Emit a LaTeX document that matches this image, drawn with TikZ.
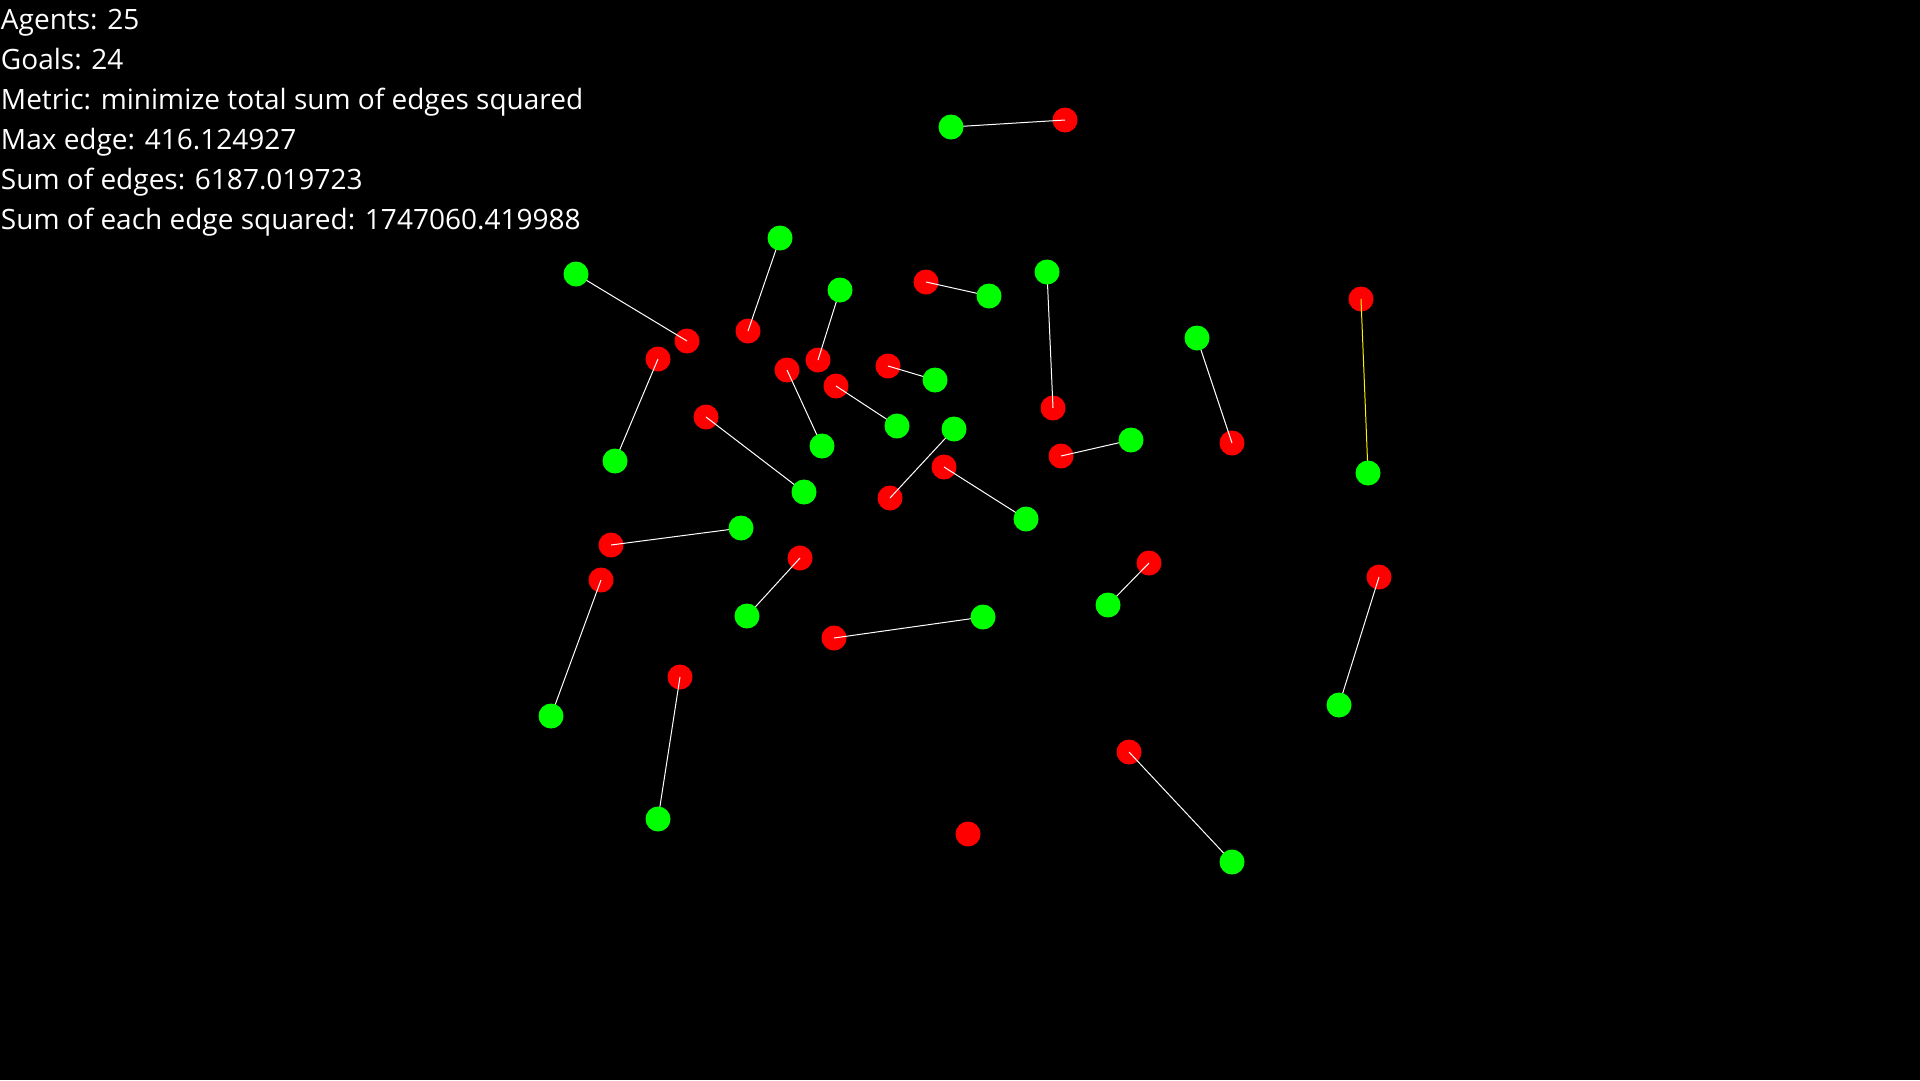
\documentclass[tikz,border=0pt]{standalone}
\usepackage{fontspec}
\setmainfont{Open Sans}
\definecolor{agentred}{RGB}{255,0,0}
\definecolor{goalgreen}{RGB}{0,255,0}
\definecolor{maxyellow}{RGB}{255,240,0}
\tikzset{every picture/.style={line width=1pt},
  agent/.style={circle,fill=agentred,minimum size=25pt,inner sep=0pt},
  goal/.style={circle,fill=goalgreen,minimum size=25pt,inner sep=0pt},
  edge/.style={draw=white,line width=1pt},
  maxedge/.style={draw=maxyellow,line width=1pt},
  stat/.style={anchor=base west,inner sep=0pt,text=white,font=\fontsize{28}{40}\selectfont}}
\begin{document}
\begin{tikzpicture}[x=1pt,y=1pt,yscale=-1]
  \fill[black] (0,0) rectangle (1920,1080);
  \useasboundingbox (0,0) rectangle (1920,1080);

  % statistics
  \node[stat] (agents) at (0.5,29.3) {Agents: 25};
  \node[stat] (goals) at (0.5,69.3) {Goals: 24};
  \node[stat] (metric) at (0.5,109.3) {Metric: minimize total sum of edges squared};
  \node[stat] (maxe) at (0.5,149.3) {Max edge: 416.124927};
  \node[stat] (sume) at (0.5,189.3) {Sum of edges: 6187.019723};
  \node[stat] (sumsq) at (0.5,229.3) {Sum of each edge squared: 1747060.419988};

  % agents
  \node[agent] (a1) at (1065,120) {};
  \node[agent] (a2) at (926,282) {};
  \node[agent] (a3) at (1361,299) {};
  \node[agent] (a4) at (687,341) {};
  \node[agent] (a5) at (748,331) {};
  \node[agent] (a6) at (658,359) {};
  \node[agent] (a7) at (787,370) {};
  \node[agent] (a8) at (818,360) {};
  \node[agent] (a9) at (836,386) {};
  \node[agent] (a10) at (888,366) {};
  \node[agent] (a11) at (1053,408) {};
  \node[agent] (a12) at (706,417) {};
  \node[agent] (a13) at (1232,443) {};
  \node[agent] (a14) at (1061,456) {};
  \node[agent] (a15) at (944,467) {};
  \node[agent] (a16) at (890,498) {};
  \node[agent] (a17) at (611,545) {};
  \node[agent] (a18) at (800,558) {};
  \node[agent] (a19) at (1149,563) {};
  \node[agent] (a20) at (601,580) {};
  \node[agent] (a21) at (1379,577) {};
  \node[agent] (a22) at (834,638) {};
  \node[agent] (a23) at (680,677) {};
  \node[agent] (a24) at (1129,752) {};
  \node[agent] (a25) at (968,834) {};

  % goal positions
  \coordinate (g1) at (951,127);
  \coordinate (g2) at (989,296);
  \coordinate (g3) at (1368,473);
  \coordinate (g4) at (576,274);
  \coordinate (g5) at (780,238);
  \coordinate (g6) at (615,461);
  \coordinate (g7) at (822,446);
  \coordinate (g8) at (840,290);
  \coordinate (g9) at (897,426);
  \coordinate (g10) at (935,380);
  \coordinate (g11) at (1047,272);
  \coordinate (g12) at (804,492);
  \coordinate (g13) at (1197,338);
  \coordinate (g14) at (1131,440);
  \coordinate (g15) at (1026,519);
  \coordinate (g16) at (954,429);
  \coordinate (g17) at (741,528);
  \coordinate (g18) at (747,616);
  \coordinate (g19) at (1108,605);
  \coordinate (g20) at (551,716);
  \coordinate (g21) at (1339,705);
  \coordinate (g22) at (983,617);
  \coordinate (g23) at (658,819);
  \coordinate (g24) at (1232,862);

  % assignment edges
  \draw[edge] (a1.center) -- (g1);
  \draw[edge] (a2.center) -- (g2);
  \draw[maxedge] (a3.center) -- (g3);
  \draw[edge] (a4.center) -- (g4);
  \draw[edge] (a5.center) -- (g5);
  \draw[edge] (a6.center) -- (g6);
  \draw[edge] (a7.center) -- (g7);
  \draw[edge] (a8.center) -- (g8);
  \draw[edge] (a9.center) -- (g9);
  \draw[edge] (a10.center) -- (g10);
  \draw[edge] (a11.center) -- (g11);
  \draw[edge] (a12.center) -- (g12);
  \draw[edge] (a13.center) -- (g13);
  \draw[edge] (a14.center) -- (g14);
  \draw[edge] (a15.center) -- (g15);
  \draw[edge] (a16.center) -- (g16);
  \draw[edge] (a17.center) -- (g17);
  \draw[edge] (a18.center) -- (g18);
  \draw[edge] (a19.center) -- (g19);
  \draw[edge] (a20.center) -- (g20);
  \draw[edge] (a21.center) -- (g21);
  \draw[edge] (a22.center) -- (g22);
  \draw[edge] (a23.center) -- (g23);
  \draw[edge] (a24.center) -- (g24);

  % goals
  \node[goal] (goal1) at (g1) {};
  \node[goal] (goal2) at (g2) {};
  \node[goal] (goal3) at (g3) {};
  \node[goal] (goal4) at (g4) {};
  \node[goal] (goal5) at (g5) {};
  \node[goal] (goal6) at (g6) {};
  \node[goal] (goal7) at (g7) {};
  \node[goal] (goal8) at (g8) {};
  \node[goal] (goal9) at (g9) {};
  \node[goal] (goal10) at (g10) {};
  \node[goal] (goal11) at (g11) {};
  \node[goal] (goal12) at (g12) {};
  \node[goal] (goal13) at (g13) {};
  \node[goal] (goal14) at (g14) {};
  \node[goal] (goal15) at (g15) {};
  \node[goal] (goal16) at (g16) {};
  \node[goal] (goal17) at (g17) {};
  \node[goal] (goal18) at (g18) {};
  \node[goal] (goal19) at (g19) {};
  \node[goal] (goal20) at (g20) {};
  \node[goal] (goal21) at (g21) {};
  \node[goal] (goal22) at (g22) {};
  \node[goal] (goal23) at (g23) {};
  \node[goal] (goal24) at (g24) {};

\end{tikzpicture}
\end{document}
